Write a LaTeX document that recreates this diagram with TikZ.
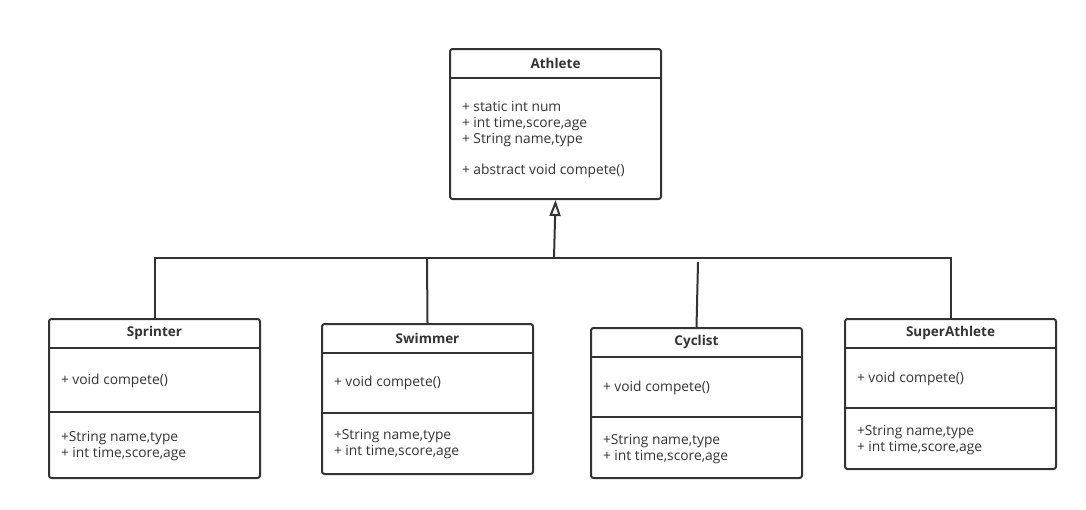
\documentclass[tikz,border=0pt]{standalone}
\usepackage{fontspec}
\setmainfont{Open Sans}
\usetikzlibrary{arrows.meta, calc}
\definecolor{trazo}{HTML}{333333}

\begin{document}
\begin{tikzpicture}[x=1pt, y=-1pt, line width=2pt, draw=trazo,
  clase/.style={draw=trazo, rounded corners=2.5pt, minimum width=211pt, inner sep=0pt, anchor=north west},
  titulo/.style={font=\bfseries\fontsize{13.5}{15}\selectfont, text=trazo, inner sep=0pt},
  texto/.style={font=\fontsize{13.8}{16}\selectfont, text=trazo, anchor=west, align=left, inner sep=0pt}]
  \useasboundingbox (0,0) rectangle (1086,509);

  % clase abstracta
  \node[clase, minimum height=150pt] (athlete) at (449,48) {};
  \draw[trazo] ($(athlete.north west)+(0,30)$) -- ($(athlete.north east)+(0,30)$);
  \node[titulo] (athleteT) at ($(athlete.north)+(0,15)$) {Athlete};
  \node[texto] (athleteA) at (461,124.5) {+ static int num\\+ int time,score,age\\+ String name,type};
  \node[texto] (athleteM) at (461,171) {+ abstract void compete()};

  % subclases
  \node[clase, minimum height=159pt] (sprinter) at (48,318) {};
  \draw[trazo] ($(sprinter.north west)+(0,30)$) -- ($(sprinter.north east)+(0,30)$);
  \draw[trazo] ($(sprinter.north west)+(0,94)$) -- ($(sprinter.north east)+(0,94)$);
  \node[titulo] (sprinterT) at ($(sprinter.north)+(0,15)$) {Sprinter};
  \node[texto] (sprinterM) at (60,381) {+ void compete()};
  \node[texto] (sprinterA) at (60,446) {+String name,type\\+ int time,score,age};

  \node[clase, minimum height=150pt] (swimmer) at (321,323) {};
  \draw[trazo] ($(swimmer.north west)+(0,30)$) -- ($(swimmer.north east)+(0,30)$);
  \draw[trazo] ($(swimmer.north west)+(0,90)$) -- ($(swimmer.north east)+(0,90)$);
  \node[titulo] (swimmerT) at ($(swimmer.north)+(0,15)$) {Swimmer};
  \node[texto] (swimmerM) at (333,383) {+ void compete()};
  \node[texto] (swimmerA) at (333,444) {+String name,type\\+ int time,score,age};

  \node[clase, minimum height=150pt] (cyclist) at (590,327) {};
  \draw[trazo] ($(cyclist.north west)+(0,30)$) -- ($(cyclist.north east)+(0,30)$);
  \draw[trazo] ($(cyclist.north west)+(0,90)$) -- ($(cyclist.north east)+(0,90)$);
  \node[titulo] (cyclistT) at ($(cyclist.north)+(0,15)$) {Cyclist};
  \node[texto] (cyclistM) at (602,388) {+ void compete()};
  \node[texto] (cyclistA) at (602,449) {+String name,type\\+ int time,score,age};

  \node[clase, minimum height=150pt] (superathlete) at (844,318) {};
  \draw[trazo] ($(superathlete.north west)+(0,30)$) -- ($(superathlete.north east)+(0,30)$);
  \draw[trazo] ($(superathlete.north west)+(0,90)$) -- ($(superathlete.north east)+(0,90)$);
  \node[titulo] (superathleteT) at ($(superathlete.north)+(0,15)$) {SuperAthlete};
  \node[texto] (superathleteM) at (856,379) {+ void compete()};
  \node[texto] (superathleteA) at (856,440) {+String name,type\\+ int time,score,age};

  % herencia
  \coordinate (union) at (554,258);
  \coordinate (swimmerTop) at (427,258);
  \coordinate (cyclistTop) at (698,262);
  \draw[trazo, -{Triangle[open, length=16pt, width=11pt]}] (union) -- (athlete.south);
  \draw[trazo] (sprinter.north) -- (sprinter.north |- union) -- (superathlete.north |- union) -- (superathlete.north);
  \draw[trazo] (swimmer.north) -- (swimmerTop);
  \draw[trazo] (cyclist.north) -- (cyclistTop);
\end{tikzpicture}
\end{document}
